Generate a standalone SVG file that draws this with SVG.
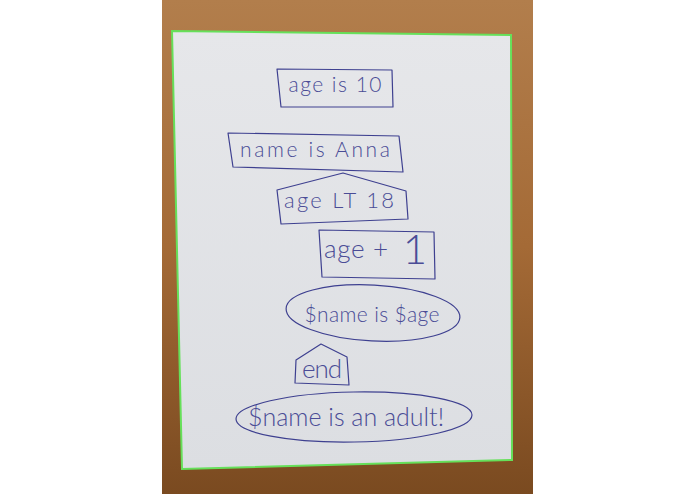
<svg xmlns="http://www.w3.org/2000/svg" width="695" height="494" viewBox="0 0 695 494">
<defs>
<linearGradient id="wood" x1="0" y1="0" x2="0" y2="1">
<stop offset="0" stop-color="#b27e4c"/>
<stop offset="0.5" stop-color="#a46a36"/>
<stop offset="1" stop-color="#7a4a20"/>
</linearGradient>
<linearGradient id="paper" x1="0" y1="0" x2="0" y2="1">
<stop offset="0" stop-color="#e6e7ea"/>
<stop offset="1" stop-color="#dcdee2"/>
</linearGradient>
</defs>
<style>
.ink{fill:none;stroke:#3e4090;stroke-width:1.2;stroke-linejoin:round;stroke-linecap:round}
.t{fill:#4a4c96;font-family:Lato,"Open Sans","Liberation Sans",sans-serif;font-weight:300;text-anchor:middle}
</style>
<rect x="0" y="0" width="695" height="494" fill="#ffffff"/>
<rect x="162" y="0" width="371" height="494" fill="url(#wood)"/>
<polygon points="172,31 511,35 512,460 182,469" fill="url(#paper)" stroke="#66e05a" stroke-width="2"/>
<g id="connectors"/>
<g id="n1">
<path class="ink" d="M277,69 L392,70 L393,107 L281,107 Z"/>
<text class="t" x="335" y="92" font-size="21" textLength="93" lengthAdjust="spacing">age is 10</text>
</g>
<g id="n2">
<path class="ink" d="M228,133 L399,136 L403,172 L233,167 Z"/>
<text class="t" x="315" y="157" font-size="21" textLength="150" lengthAdjust="spacing">name is Anna</text>
</g>
<g id="n3">
<path class="ink" d="M277,190 L343,173 L406,191 L408,219 L281,224 Z"/>
<text class="t" x="339" y="208" font-size="22" textLength="110" lengthAdjust="spacing">age LT 18</text>
</g>
<g id="n4">
<path class="ink" d="M319,230 L434,232 L435,279 L322,277 Z"/>
<text class="t" x="356" y="258" font-size="26" textLength="64" lengthAdjust="spacing">age +</text>
<text class="t" x="415" y="264" font-size="42">1</text>
</g>
<g id="n5">
<ellipse class="ink" cx="373" cy="313" rx="87" ry="28" transform="rotate(3 373 313)"/>
<text class="t" x="372" y="322" font-size="21" textLength="135" lengthAdjust="spacing">$name is $age</text>
</g>
<g id="n6">
<path class="ink" d="M296,360 L321,344 L347,357 L349,385 L295,383 Z"/>
<text class="t" x="322" y="378" font-size="26" textLength="40" lengthAdjust="spacing">end</text>
</g>
<g id="n7">
<ellipse class="ink" cx="354" cy="417" rx="118" ry="25" transform="rotate(-1 354 417)"/>
<text class="t" x="346" y="426" font-size="25" textLength="196" lengthAdjust="spacing">$name is an adult!</text>
</g>
</svg>
